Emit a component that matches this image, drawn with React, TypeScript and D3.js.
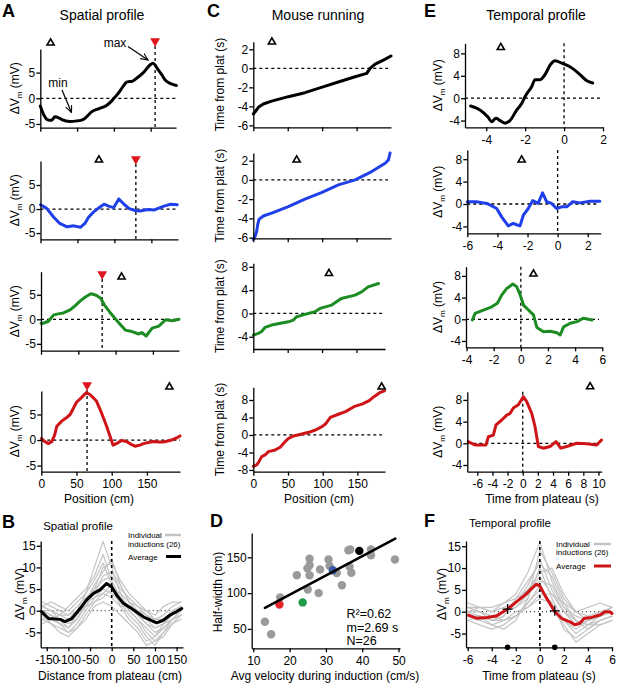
import { useEffect, useRef } from "react";
import * as d3 from "d3";

// ---------- A: spatial profiles (position, cm -> dVm, mV)
const a1Pos = [0, 5, 10, 15, 20, 25, 30, 40, 50, 55, 60, 65, 70, 80, 90, 95, 100, 105, 110, 115, 118, 125, 130, 140, 150, 153, 160, 165, 170, 175, 180, 185];
const a1Vm = [-1.5, -3.3, -4.2, -4.3, -3.6, -3.8, -4.2, -4.5, -4.4, -4.3, -4.0, -3.3, -2.6, -2.0, -1.4, -0.8, 0, 0.8, 1.8, 2.8, 3.2, 3.3, 3.8, 5.0, 6.6, 6.8, 5.6, 4.6, 3.5, 3.0, 2.7, 2.5];
const a2Pos = [0, 8, 18, 26, 36, 45, 54, 60, 65, 72, 81, 86, 92, 99, 106, 113, 120, 128, 135, 145, 154, 160, 167, 176, 185];
const a2Vm = [0.9, 0.2, -1.7, -3.0, -3.7, -3.5, -3.8, -3.0, -1.7, -0.6, 0.5, 1.0, 0.6, 0.3, 2.1, 1.0, 0.1, -0.3, -0.4, -0.1, -0.2, 0.2, 0.6, 1.0, 0.9];
const a3Pos = [0, 3, 10, 17, 23, 30, 39, 46, 53, 60, 67, 74, 80, 85, 92, 99, 106, 113, 122, 131, 135, 141, 149, 158, 167, 176, 185];
const a3Vm = [-0.8, -0.8, -0.4, 0.9, 1.1, 1.3, 1.9, 2.8, 3.8, 4.6, 5.2, 4.9, 4.3, 2.9, 1.5, 0.2, -1.0, -2.2, -2.5, -3.0, -2.7, -3.4, -1.8, -1.4, -0.1, -0.3, 0];
const a4Pos = [0, 5, 10, 15, 19, 22, 29, 35, 41, 50, 57, 64, 70, 78, 85, 92, 97, 102, 108, 114, 121, 127, 133, 140, 145, 152, 159, 166, 173, 180, 185, 192, 197];
const a4Vm = [0.3, -0.3, -0.7, -0.3, 1.0, 2.7, 3.7, 4.3, 5.0, 7.4, 8.3, 9.3, 8.8, 7.7, 5.5, 3.0, 1.0, -1.0, -0.6, -0.1, -0.3, -0.8, -1.2, -1.0, -0.7, -0.5, -0.3, -0.4, -0.4, -0.2, 0, 0.4, 0.8];
const aPeakPos = [156, 129, 82, 65];
const aOpenPos = [14, 79, 108, 182];
const aTicksX = [0, 50, 100, 150];
const aTicksY = [-5, 0, 5];

// ---------- B: spatial profile, all inductions (distance from plateau, cm)
const bGrid = [-160, -140, -120, -100, -80, -60, -40, -20, 0, 20, 40, 60, 80, 100, 120, 140, 160];
const bInd1 = [0, -1, -3, -4, -2, 2, 6, 9, 12, 6, 2, -1, -3, -5, -4, -2, 0];
const bInd2 = [1, 0, -1, -2, 0, 4, 10, 16, 10, 4, 0, -2, -4, -6, -3, -1, 1];
const bInd3 = [-2, -3, -4, -5, -3, 0, 3, 5, 4, 2, -1, -3, -6, -8, -5, -2, -1];
const bInd4 = [2, 1, 0, -1, 1, 3, 5, 7, 8, 5, 3, 1, -1, -2, -1, 1, 2];
const bInd5 = [-1, -2, -3, -5, -4, -1, 2, 4, 6, 3, 0, -2, -5, -7, -6, -3, -1];
const bInd6 = [0, 0, -2, -3, -2, 1, 4, 8, 9, 6, 2, 0, -2, -4, -3, 0, 1];
const bInd7 = [1, 2, 1, 0, 2, 4, 7, 11, 6, 1, -2, -4, -7, -6, -4, -2, 0];
const bInd8 = [-2, -1, -3, -2, 0, 2, 3, 4, 3, 1, 1, 0, -1, -3, -2, -1, 0];
const bInd9 = [0, -1, -2, -4, -1, 1, 5, 10, 11, 7, 4, 2, 0, -2, -2, 0, 1];
const bInd10 = [-1, -3, -5, -6, -4, -2, 1, 2, 1, -1, -3, -5, -8, -7, -5, -3, -2];
const bInd11 = [-3, -2, -1, 1, 3, 5, 8, 13, 7, 3, 1, -1, -3, -4, -3, -2, -1];
const bInd12 = [1, 0, -1, -1, 0, 1, 2, 3, 5, 4, 2, 1, 0, -1, 1, 2, 2];
const bAvgPos = [-162, -146, -119, -108, -92, -73, -58, -42, -27, -11.5, 0, 11.5, 27, 50, 73, 104, 119, 135, 150, 162];
const bAvgVm = [-0.2, -1.8, -2.0, -2.5, -1.8, 0.5, 2.5, 4.0, 4.8, 6.3, 5.5, 3.6, 1.7, 0.2, -1.4, -2.8, -2.2, -1.0, -0.2, 0.5];

// ---------- C: mouse running (position, cm -> time from plateau, s)
const c1Pos = [0, 2.4, 7.3, 14.5, 26.6, 50.9, 75, 99, 123.5, 147.8, 164.8, 169.6, 177, 189, 200];
const c1T = [-4.8, -4.6, -4.1, -3.75, -3.45, -2.98, -2.56, -2.0, -1.44, -0.88, -0.53, 0, 0.45, 0.87, 1.3];
const c2Pos = [0, 2.4, 4.8, 6.3, 8.2, 14.5, 26.6, 50.9, 75, 99, 123.5, 148, 172, 191.5, 196.3, 198.7];
const c2T = [-6.2, -5.9, -5.4, -4.7, -4.1, -3.75, -3.46, -2.78, -2.0, -1.32, -0.52, 0, 0.87, 1.74, 2.08, 2.8];
const c3Pos = [0, 7.3, 12.1, 17, 26.6, 50.9, 58, 63, 75, 89.6, 97, 114, 121, 128, 148, 157.5, 167, 182];
const c3T = [-3.72, -3.43, -3.1, -2.4, -2.0, -1.44, -1.15, -0.57, -0.17, 0.28, 0.86, 1.43, 2.0, 2.57, 3.14, 3.7, 4.56, 5.14];
const c4Pos = [0, 4.8, 7.3, 12.1, 17, 21.8, 31.5, 38.7, 46, 50.9, 58, 70, 80, 89.6, 99, 104, 111, 123.5, 133, 145, 157.5, 167, 174, 182, 189];
const c4T = [-7.2, -6.86, -6.3, -4.95, -4.57, -3.8, -3.43, -2.8, -1.52, -0.76, -0.23, 0.23, 0.61, 1.14, 1.9, 2.5, 4.04, 4.8, 5.33, 6.47, 7.1, 7.85, 8.76, 9.67, 10.1];
const cOpenPos = [27, 63, 110, 185];
const cTicksX = [0, 50, 100, 150];

// ---------- D: half-width vs velocity
const dVel = [13.2, 14.9, 17.4, 22, 25, 25.5, 25.5, 24.9, 25.5, 28, 28.4, 30.7, 31, 33, 34.4, 36.2, 36.7, 36.5, 37, 42.4, 42.4, 49];
const dHalfWidth = [60, 42.5, 94, 125, 105, 148, 139, 134.6, 125, 100, 133, 147, 138, 128, 111, 160, 161, 137, 128.5, 161, 153, 147];
const dExampleVel = [39.2, 31.9, 23.6, 17.2];
const dExampleHw = [159, 132, 87, 84];
const dFitVel = [13.2, 49.1];
const dSlope = 2.69;
const dIntercept = 44;
const dStats = ["R²=0.62", "m=2.69 s", "N=26"];

// ---------- E: temporal profiles (time from plateau, s -> dVm, mV)
const e1T = [-4.8, -4.32, -3.9, -3.72, -3.5, -3.2, -3.03, -2.78, -2.43, -2.17, -2.0, -1.66, -1.49, -1.23, -0.98, -0.72, -0.46, -0.12, 0.3, 0.82, 1.17, 1.47];
const e1Vm = [-1.4, -2.1, -3.4, -4.2, -3.6, -4.2, -4.46, -4.0, -2.1, -0.9, 0.3, 2.1, 3.3, 3.3, 4.2, 5.9, 6.7, 6.25, 5.6, 4.2, 3.1, 2.7];
const e2T = [-6.0, -5.4, -4.7, -4.05, -3.72, -3.28, -2.95, -2.68, -2.5, -2.28, -1.95, -1.66, -1.29, -1.0, -0.73, -0.4, -0.07, 0.27, 0.6, 1.0, 1.48, 2.15, 2.8];
const e2Vm = [0.4, 0.4, 0.1, -0.8, -2.3, -3.9, -3.45, -3.75, -3.9, -2.0, -0.8, 0.6, 0.1, 2.0, 0.4, 0.1, -0.8, -0.5, -0.5, 0.4, 0.2, 0.5, 0.5];
const e3T = [-3.57, -3.37, -2.76, -2.14, -1.73, -1.4, -1.03, -0.59, -0.3, -0.05, 0.2, 0.56, 0.93, 1.18, 1.67, 2.16, 2.66, 2.9, 3.15, 3.64, 4.13, 4.62, 5.24];
const e3Vm = [-0.13, 1.1, 1.7, 2.3, 2.95, 4.5, 5.7, 6.5, 6.0, 4.5, 2.6, 1.7, 0.8, -1.5, -2.3, -2.2, -2.5, -2.9, -1.4, -0.74, -0.44, 0.2, -0.13];
const e4T = [-7.2, -6.74, -6.3, -5.4, -4.85, -4.54, -3.88, -3.53, -2.77, -2.11, -1.68, -1.24, -0.58, 0.08, 0.53, 1.19, 1.62, 2.06, 2.72, 3.6, 4.4, 5.02, 5.8, 7.13, 8.45, 9.78, 10.4];
const e4Vm = [0.3, 0, -0.3, -0.3, -0.3, 1.2, 1.5, 3.4, 4.3, 5.2, 5.5, 6.5, 7.1, 8.6, 7.7, 5.5, 3.1, -0.6, -0.9, -0.6, 0.3, -0.9, -0.6, 0, -0.1, -0.3, 0.6];
const eOpenT = [-3.25, -2.39, 0.93, 8.9];
const eTicksY = [-4, 0, 4, 8];

// ---------- F: temporal profile, all inductions
const fGrid = [-6, -5, -4, -3, -2, -1, 0, 1, 2, 3, 4, 5, 6];
const fInd1 = [0, -1, -2, -1, 2, 6, 12, 5, 0, -3, -2, -1, 0];
const fInd2 = [1, 1, 0, 2, 4, 9, 16, 7, 1, -2, -3, -1, 1];
const fInd3 = [-2, -3, -4, -3, -1, 2, 5, 2, -4, -6, -4, -2, -1];
const fInd4 = [2, 1, 1, 2, 3, 5, 8, 4, 2, 0, 1, 2, 1];
const fInd5 = [-1, -2, -3, -4, -2, 3, 10, 3, -2, -5, -3, -3, -2];
const fInd6 = [0, 0, -1, 0, 1, 4, 7, 6, 1, -1, -2, 0, 0];
const fInd7 = [1, 0, -2, -1, 3, 7, 11, 8, 2, -2, -4, -2, -1];
const fInd8 = [-1, -1, -2, -2, 0, 1, 3, 2, -3, -7, -5, -3, -2];
const fInd9 = [0, 1, 0, 1, 2, 5, 9, 10, 4, 0, -1, 0, 1];
const fInd10 = [-2, -1, -3, -2, -1, 2, 6, 1, -2, -4, -2, -1, 0];
const fInd11 = [1, 0, -1, 0, 1, 3, 14, 9, 3, 0, -2, -1, 0];
const fInd12 = [-1, -2, -1, -2, -1, 1, 4, 4, 0, -2, -3, -2, -1];
const fAvgT = [-5.92, -5.25, -4.4, -3.6, -3.05, -2.6, -1.93, -1.24, -0.69, -0.28, 0.05, 0.41, 0.83, 1.24, 1.8, 2.5, 2.9, 3.3, 3.7, 4.3, 5.0, 5.4, 5.8, 6.0];
const fAvgVm = [-0.76, -1.5, -1.3, -1.0, 0, 0.8, 2.3, 3.8, 5.3, 6.3, 5.7, 3.8, 1.9, 0, -1.5, -2.3, -3.0, -2.7, -1.5, -1.3, -0.76, 0, 0, -0.4];
const fHalfT = [-2.68, 1.24];
const fHalfVm = [0.6, 0.2];

const FONT = "'Liberation Sans', Arial, Helvetica, sans-serif";
const BLACK = "#000000";
const BLUE = "#1f3fe8";
const GREEN = "#1c8c22";
const RED = "#cf1418";
const GRAY = "#c4c4c4";

const App = () => {
  const svgRef = useRef(null);

  useEffect(() => {
    const svg = d3.select(svgRef.current);
    svg.selectAll("*").remove();

    const defs = svg.append("defs");
    defs
      .append("marker")
      .attr("id", "arrow")
      .attr("viewBox", "0 -5 10 10")
      .attr("refX", 9)
      .attr("refY", 0)
      .attr("markerWidth", 8)
      .attr("markerHeight", 8)
      .attr("markerUnits", "userSpaceOnUse")
      .attr("orient", "auto")
      .append("path")
      .attr("d", "M0,-4L9,0L0,4")
      .attr("fill", "none")
      .attr("stroke", "#000")
      .attr("stroke-width", 1.3);

    const text = (x, y, s, size = 12, anchor = "middle", weight = "normal") =>
      svg
        .append("text")
        .attr("x", x)
        .attr("y", y)
        .attr("font-family", FONT)
        .attr("font-size", size)
        .attr("font-weight", weight)
        .attr("text-anchor", anchor)
        .attr("fill", "#000")
        .text(s);

    const yLabel = (x, y, s) => {
      const t = svg
        .append("text")
        .attr("transform", `translate(${x},${y}) rotate(-90)`)
        .attr("font-family", FONT)
        .attr("font-size", 12)
        .attr("text-anchor", "middle")
        .attr("fill", "#000");
      if (s === "dvm") {
        t.append("tspan").text("ΔV");
        t.append("tspan").attr("font-size", 8).attr("dy", 3).text("m");
        t.append("tspan").attr("dy", -3).text(" (mV)");
      } else t.text(s);
    };

    // one panel: scales + Igor-like axes
    const panel = (p) => {
      const x = d3.scaleLinear().domain(p.xd).range([p.left, p.right]);
      const y = d3.scaleLinear().domain(p.yd).range([p.bottom, p.top]);
      const g = svg.append("g");
      const fmt = (d) => String(d);
      const ax = svg
        .append("g")
        .attr("transform", `translate(0,${p.bottom})`)
        .call(
          d3
            .axisBottom(x)
            .tickValues(p.xTicks)
            .tickSize(4)
            .tickSizeOuter(0)
            .tickPadding(p.xPad ?? 5)
            .tickFormat(p.xLabels ? fmt : () => "")
        );
      const ay = svg
        .append("g")
        .attr("transform", `translate(${p.left},0)`)
        .call(d3.axisLeft(y).tickValues(p.yTicks).tickSize(4).tickSizeOuter(0).tickPadding(1).tickFormat(fmt));
      [ax, ay].forEach((a) => {
        a.select(".domain").attr("stroke", "#000").attr("stroke-width", 1.3);
        a.selectAll(".tick line").attr("stroke", "#000").attr("stroke-width", 1.3);
        a.selectAll("text").attr("font-size", 12).attr("font-family", FONT).attr("fill", "#000");
      });
      return { x, y, g };
    };

    const trace = (g, x, y, xs, ys, color, width, curve = d3.curveLinear) =>
      g
        .append("path")
        .datum(xs.map((v, i) => [v, ys[i]]))
        .attr("fill", "none")
        .attr("stroke", color)
        .attr("stroke-width", width)
        .attr("stroke-linejoin", "round")
        .attr("stroke-linecap", "round")
        .attr(
          "d",
          d3
            .line()
            .x((d) => x(d[0]))
            .y((d) => y(d[1]))
            .curve(curve)
        );

    const dashed = (g, x1, y1, x2, y2, dash = "3,3", w = 1.3) =>
      g
        .append("line")
        .attr("x1", x1)
        .attr("y1", y1)
        .attr("x2", x2)
        .attr("y2", y2)
        .attr("stroke", "#000")
        .attr("stroke-width", w)
        .attr("stroke-dasharray", dash);

    const redTri = (cx, cy) =>
      svg
        .append("path")
        .attr("transform", `translate(${cx},${cy}) rotate(180)`)
        .attr("d", d3.symbol(d3.symbolTriangle, 42)())
        .attr("fill", "#e0141c");

    const openTri = (cx, cy) =>
      svg
        .append("path")
        .attr("transform", `translate(${cx},${cy})`)
        .attr("d", d3.symbol(d3.symbolTriangle, 22)())
        .attr("fill", "#fff")
        .attr("stroke", "#000")
        .attr("stroke-width", 1.6);

    // ================= A =================
    text(2, 17, "A", 18, "start", "bold");
    text(102, 20, "Spatial profile", 14);
    const aRows = [
      { left: 40.3, right: 176, top: 49, bottom: 127.7, xd: [0, 184.4], yd: [-5.73, 9.6], tri: 41, open: 43, xs: a1Pos, ys: a1Vm, color: BLACK },
      { left: 40.5, right: 178, top: 161, bottom: 239.3, xd: [0, 186], yd: [-6.3, 10], tri: 159, open: 160, xs: a2Pos, ys: a2Vm, color: BLUE },
      { left: 41, right: 179, top: 271.7, bottom: 350.7, xd: [0, 185], yd: [-6.4, 9.7], tri: 274, open: 277, xs: a3Pos, ys: a3Vm, color: GREEN },
      { left: 41.3, right: 180, top: 391, bottom: 471.7, xd: [0, 197], yd: [-6.2, 9.6], tri: 385, open: 387, xs: a4Pos, ys: a4Vm, color: RED },
    ];
    aRows.forEach((r, i) => {
      const { x, y, g } = panel({ ...r, xTicks: aTicksX, yTicks: aTicksY, xLabels: i === 3, xPad: 4 });
      dashed(g, r.left, y(0), r.right, y(0));
      dashed(g, x(aPeakPos[i]), r.tri + 5, x(aPeakPos[i]), r.bottom);
      trace(g, x, y, r.xs, r.ys, r.color, 3, i === 0 ? d3.curveMonotoneX : d3.curveLinear);
      redTri(x(aPeakPos[i]), r.tri);
      openTri(x(aOpenPos[i]), r.open);
      yLabel(19, (r.top + r.bottom) / 2, "dvm");
    });
    text(99, 503, "Position (cm)", 12);
    // min / max annotations
    text(58, 87, "min", 12);
    svg.append("line").attr("x1", 62).attr("y1", 90).attr("x2", 71.5).attr("y2", 112.5).attr("stroke", "#000").attr("stroke-width", 1.2).attr("marker-end", "url(#arrow)");
    text(115, 47, "max", 12);
    svg.append("line").attr("x1", 128).attr("y1", 46.5).attr("x2", 148).attr("y2", 60).attr("stroke", "#000").attr("stroke-width", 1.2).attr("marker-end", "url(#arrow)");

    // ================= B =================
    text(2, 528, "B", 18, "start", "bold");
    text(78, 530, "Spatial profile", 11.5);
    {
      const p = { left: 40.7, right: 183, top: 541, bottom: 647.3, xd: [-164, 164.7], yd: [-8.45, 16.1] };
      const { x, y, g } = panel({ ...p, xTicks: [-150, -100, -50, 0, 50, 100, 150], yTicks: [-5, 0, 5, 10, 15], xLabels: true, xPad: 4 });
      dashed(g, p.left, y(0), p.right, y(0), "1,3", 1);
      [bInd1, bInd2, bInd3, bInd4, bInd5, bInd6, bInd7, bInd8, bInd9, bInd10, bInd11, bInd12].forEach((s) =>
        trace(g, x, y, bGrid, s, GRAY, 1.2)
      );
      dashed(g, x(0), p.top, x(0), p.bottom, "3,3", 1.6);
      trace(g, x, y, bAvgPos, bAvgVm, BLACK, 3);
      yLabel(24, 594, "dvm");
      text(110, 680, "Distance from plateau (cm)", 12);
      text(128, 538, "Individual", 8, "start");
      text(128, 546.5, "inductions (26)", 8, "start");
      svg.append("line").attr("x1", 165).attr("x2", 181).attr("y1", 535).attr("y2", 535).attr("stroke", GRAY).attr("stroke-width", 2.5);
      text(128, 559.5, "Average", 8, "start");
      svg.append("line").attr("x1", 166).attr("x2", 181).attr("y1", 556.5).attr("y2", 556.5).attr("stroke", BLACK).attr("stroke-width", 3);
    }

    // ================= C =================
    text(207, 17, "C", 18, "start", "bold");
    text(318, 20, "Mouse running", 14);
    const cRows = [
      { left: 253.3, right: 391, top: 41.7, bottom: 127.3, xd: [0, 200], yd: [-6.2, 2.8], yTicks: [-6, -4, -2, 0, 2], open: 42, xs: c1Pos, ys: c1T, color: BLACK },
      { left: 253.3, right: 391, top: 153, bottom: 238.3, xd: [0, 200], yd: [-6.07, 2.8], yTicks: [-6, -4, -2, 0, 2], open: 160, xs: c2Pos, ys: c2T, color: BLUE },
      { left: 253.3, right: 385, top: 263.3, bottom: 349, xd: [0, 191.5], yd: [-6.1, 8.6], yTicks: [-4, 0, 4, 8], open: 273.5, xs: c3Pos, ys: c3T, color: GREEN },
      { left: 253.3, right: 385, top: 387.3, bottom: 471.7, xd: [0, 189.8], yd: [-8.4, 10.9], yTicks: [-8, -4, 0, 4, 8], open: 387, xs: c4Pos, ys: c4T, color: RED },
    ];
    cRows.forEach((r, i) => {
      const { x, y, g } = panel({ ...r, xTicks: cTicksX, xLabels: i === 3, xPad: 4 });
      dashed(g, r.left, y(0), r.right - 3, y(0));
      trace(g, x, y, r.xs, r.ys, r.color, 3);
      openTri(x(cOpenPos[i]), r.open);
      yLabel(224, (r.top + r.bottom) / 2, "Time from plat (s)");
    });
    text(319, 503, "Position (cm)", 12);

    // ================= D =================
    text(210, 527, "D", 18, "start", "bold");
    {
      const p = { left: 251.7, right: 400, top: 533, bottom: 648.3, xd: [9.56, 50.4], yd: [22.9, 184] };
      const { x, y, g } = panel({ ...p, xTicks: [10, 20, 30, 40, 50], yTicks: [50, 100, 150], xLabels: true, xPad: 4 });
      g.selectAll(".gdot")
        .data(dVel.map((v, i) => [v, dHalfWidth[i]]))
        .enter()
        .append("circle")
        .attr("cx", (d) => x(d[0]))
        .attr("cy", (d) => y(d[1]))
        .attr("r", 4.2)
        .attr("fill", "#9a9a9a");
      const exColors = [BLACK, "#3c5aa6", "#1f9a48", "#e3262c"];
      dExampleVel.forEach((v, i) =>
        g.append("circle").attr("cx", x(v)).attr("cy", y(dExampleHw[i])).attr("r", 4.2).attr("fill", exColors[i])
      );
      trace(g, x, y, dFitVel, dFitVel.map((v) => dSlope * v + dIntercept), BLACK, 2.6);
      dStats.forEach((s, i) => text(346.5, 618 + i * 13.5, s, 12.5, "start"));
      yLabel(222, 592, "Half-width (cm)");
      text(325, 680, "Avg velocity during induction (cm/s)", 12);
    }

    // ================= E =================
    text(424, 17, "E", 18, "start", "bold");
    text(536, 20, "Temporal profile", 14);
    const eRows = [
      { left: 465, right: 603, top: 43.3, bottom: 127.3, xd: [-5.09, 2.0], yd: [-5.2, 9.8], xTicks: [-4, -2, 0, 2], open: 47.5, xs: e1T, ys: e1Vm, color: BLACK },
      { left: 467.3, right: 600.7, top: 150, bottom: 233.3, xd: [-6.0, 2.86], yd: [-5.23, 9.64], xTicks: [-6, -4, -2, 0, 2], open: 160, xs: e2T, ys: e2Vm, color: BLUE },
      { left: 466, right: 602, top: 266.7, bottom: 347.3, xd: [-4.04, 5.98], yd: [-5.17, 9.7], xTicks: [-4, -2, 0, 2, 4, 6], open: 274, xs: e3T, ys: e3Vm, color: GREEN },
      { left: 467.3, right: 601.7, top: 391.7, bottom: 471.7, xd: [-7.32, 10.43], yd: [-5.24, 9.52], xTicks: [-6, -4, -2, 0, 2, 4, 6, 8, 10], open: 386.7, xs: e4T, ys: e4Vm, color: RED },
    ];
    eRows.forEach((r, i) => {
      const { x, y, g } = panel({ ...r, yTicks: eTicksY, xLabels: true, xPad: 4 });
      dashed(g, r.left, y(0), r.right - 3, y(0));
      dashed(g, x(0), r.top, x(0), r.bottom);
      trace(g, x, y, r.xs, r.ys, r.color, 3, i === 0 ? d3.curveMonotoneX : d3.curveLinear);
      openTri(x(eOpenT[i]), r.open);
      yLabel(442, (r.top + r.bottom) / 2, "dvm");
    });
    text(542, 503, "Time from plateau (s)", 12);

    // ================= F =================
    text(424, 527, "F", 18, "start", "bold");
    text(510, 527, "Temporal profile", 11.5);
    {
      const p = { left: 466, right: 612, top: 541, bottom: 647.3, xd: [-6.14, 6.0], yd: [-8.15, 16.2] };
      const { x, y, g } = panel({ ...p, xTicks: [-6, -4, -2, 0, 2, 4, 6], yTicks: [-5, 0, 5, 10, 15], xLabels: true, xPad: 4 });
      dashed(g, p.left, y(0), p.right, y(0), "1,3", 1);
      [fInd1, fInd2, fInd3, fInd4, fInd5, fInd6, fInd7, fInd8, fInd9, fInd10, fInd11, fInd12].forEach((s) =>
        trace(g, x, y, fGrid, s, GRAY, 1.2)
      );
      dashed(g, x(0), p.top, x(0), p.bottom, "3,3", 1.6);
      trace(g, x, y, fAvgT, fAvgVm, RED, 3);
      fHalfT.forEach((t, i) => {
        const cx = x(t);
        const cy = y(fHalfVm[i]);
        g.append("path")
          .attr("d", `M${cx - 5},${cy}H${cx + 5}M${cx},${cy - 5}V${cy + 5}`)
          .attr("stroke", "#000")
          .attr("stroke-width", 1.2);
        g.append("circle").attr("cx", cx).attr("cy", p.bottom).attr("r", 2.8).attr("fill", "#000");
      });
      yLabel(446, 594, "dvm");
      text(539, 680, "Time from plateau (s)", 12);
      text(556, 547, "Individual", 8, "start");
      text(556, 555, "inductions (26)", 8, "start");
      svg.append("line").attr("x1", 594).attr("x2", 611).attr("y1", 544).attr("y2", 544).attr("stroke", GRAY).attr("stroke-width", 2.5);
      text(556, 569, "Average", 8, "start");
      svg.append("line").attr("x1", 594).attr("x2", 611).attr("y1", 566).attr("y2", 566).attr("stroke", RED).attr("stroke-width", 3);
    }
  }, []);

  return (
    <svg
      ref={svgRef}
      width={617}
      height={683}
      style={{ position: "absolute", left: 0, top: 0, background: "#fff" }}
    />
  );
};

export default App;
